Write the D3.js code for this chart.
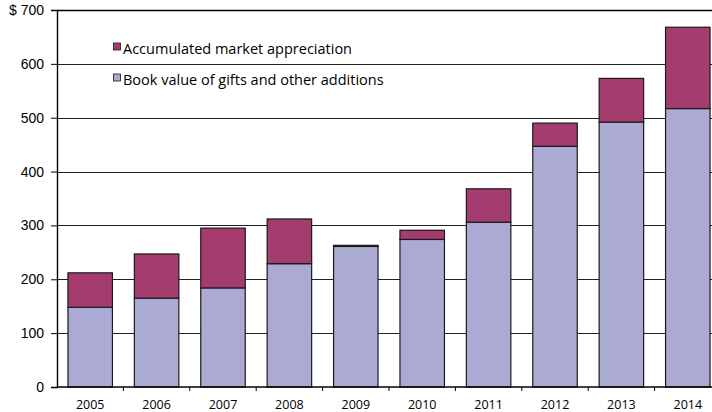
<!DOCTYPE html>
<html>
<head>
<meta charset="utf-8">
<script src="https://cdn.jsdelivr.net/npm/d3@7"></script>
<style>
  body { margin: 0; background: #fff; }
  svg { display: block; font-family: "Open Sans", sans-serif; }
</style>
</head>
<body>
<div id="js_chart"></div>
<script>
// Data ($ millions)
const years = ["2005", "2006", "2007", "2008", "2009", "2010", "2011", "2012", "2013", "2014"];
const bookValue = [148, 165, 184, 229, 261, 274, 306, 447, 492, 517];
const marketAppreciation = [64, 82, 111, 83, 2, 17, 62, 43, 81, 151];
const yTicks = [0, 100, 200, 300, 400, 500, 600, 700];

const seriesNames = ["Book value of gifts and other additions", "Accumulated market appreciation"];
const seriesColors = ["#aaaad2", "#a53c70"];

const width = 712, height = 412;
const margin = {top: 10, right: -9, bottom: 25, left: 57};
const innerW = width - margin.left - margin.right;
const innerH = height - margin.top - margin.bottom;

const rows = years.map(function (y, i) {
    return {year: y, book: bookValue[i], market: marketAppreciation[i]};
});
const stacked = d3.stack().keys(["book", "market"])(rows);

const x = d3.scaleBand().domain(years).range([0, innerW]).paddingInner(0.33).paddingOuter(0.165);
const y = d3.scaleLinear().domain([0, 700]).range([innerH, 0]);

const svg = d3.select("#js_chart").append("svg")
    .attr("width", width)
    .attr("height", height);

const g = svg.append("g").attr("transform", "translate(" + margin.left + "," + margin.top + ")");

// gridlines
g.append("g").selectAll("line").data(yTicks.slice(1)).enter().append("line")
    .attr("x1", 0).attr("x2", innerW)
    .attr("y1", function (d) { return Math.round(y(d)) + 0.5; })
    .attr("y2", function (d) { return Math.round(y(d)) + 0.5; })
    .attr("stroke", function (d) { return d === 700 ? "#000" : "#222"; })
    .attr("stroke-width", function (d) { return d === 700 ? 1.6 : 1.2; });

// bars
g.append("g").selectAll("g").data(stacked).enter().append("g")
    .attr("fill", function (d, i) { return seriesColors[i]; })
    .selectAll("rect").data(function (d) { return d; }).enter().append("rect")
    .attr("x", function (d) { return x(d.data.year); })
    .attr("y", function (d) { return y(d[1]); })
    .attr("width", x.bandwidth())
    .attr("height", function (d) { return y(d[0]) - y(d[1]); })
    .attr("stroke", "#1a1a1a")
    .attr("stroke-width", 1.2);

// y axis
const yAxis = g.append("g")
    .call(d3.axisLeft(y).tickValues(yTicks).tickSize(6).tickPadding(7)
        .tickFormat(function (d) { return d === 700 ? "$ 700" : d; }));
yAxis.select(".domain").attr("stroke", "#000").attr("stroke-width", 1.4);
yAxis.selectAll("text").attr("font-size", 14).attr("fill", "#000");

// x axis, ticks between categories
const xAxis = g.append("g").attr("transform", "translate(0," + innerH + ")");
xAxis.append("line").attr("x1", 0).attr("x2", innerW).attr("stroke", "#000").attr("stroke-width", 1.4);
const step = x.step();
const startX = x(years[0]) - x.paddingOuter() * step;
xAxis.selectAll("line.tk").data(d3.range(1, years.length)).enter().append("line")
    .attr("class", "tk")
    .attr("x1", function (i) { return startX + i * step; })
    .attr("x2", function (i) { return startX + i * step; })
    .attr("y1", 0).attr("y2", 4)
    .attr("stroke", "#000");
xAxis.selectAll("text").data(years).enter().append("text")
    .attr("x", function (d) { return x(d) + x.bandwidth() / 2; })
    .attr("y", 22)
    .attr("text-anchor", "middle")
    .attr("font-size", 12.5)
    .text(function (d) { return d; });

// legend
const legend = svg.append("g").attr("transform", "translate(113,0)");
const legendItems = [
    {name: seriesNames[1], color: seriesColors[1], y: 47},
    {name: seriesNames[0], color: seriesColors[0], y: 78}
];
legendItems.forEach(function (it) {
    legend.append("rect")
        .attr("x", 0.5).attr("y", it.y - 4)
        .attr("width", 7).attr("height", 7)
        .attr("fill", it.color)
        .attr("stroke", "#1a1a1a").attr("stroke-width", 0.8);
    legend.append("text")
        .attr("x", 10).attr("y", it.y + 7)
        .attr("font-size", 14.5)
        .text(it.name);
});
</script>
</body>
</html>
